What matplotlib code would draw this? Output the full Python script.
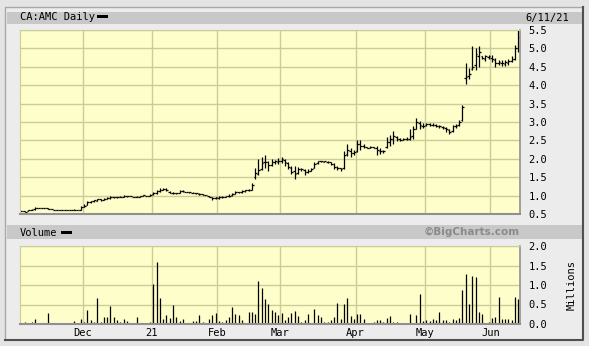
import numpy as np
import pandas as pd
import matplotlib
matplotlib.use("Agg")
import matplotlib.pyplot as plt
from matplotlib.patches import Rectangle
from matplotlib.lines import Line2D

# --------------------------------------------------
# Data (daily OHLC + volume)
# --------------------------------------------------
holidays = ["2020-12-25", "2020-12-28", "2021-01-01", "2021-02-15",
            "2021-04-02", "2021-05-24"]
dates = pd.bdate_range("2020-11-04", "2021-06-11")
dates = dates[~dates.isin(pd.to_datetime(holidays))]

open_ = [0.58, 0.58, 0.57, 0.60, 0.63, 0.66, 0.66, 0.66, 0.66, 0.64,
         0.62, 0.62, 0.62, 0.62, 0.62, 0.62, 0.62, 0.62, 0.62, 0.70,
         0.75, 0.82, 0.84, 0.86, 0.90, 0.88, 0.92, 0.93, 0.95, 0.95,
         0.96, 0.97, 0.99, 0.98, 0.97, 0.96, 0.97, 0.99, 1.00, 1.00,
         1.03, 1.07, 1.13, 1.16, 1.18, 1.10, 1.08, 1.06, 1.07, 1.12,
         1.11, 1.10, 1.08, 1.07, 1.05, 1.03, 1.01, 1.00, 0.95, 0.93,
         0.94, 0.95, 0.97, 0.99, 1.01, 1.05, 1.09, 1.10, 1.12, 1.14,
         1.16, 1.50, 1.60, 1.72, 1.90, 1.90, 1.82, 1.90, 1.92, 1.95,
         1.98, 1.88, 1.76, 1.66, 1.62, 1.73, 1.70, 1.65, 1.68, 1.75,
         1.88, 1.93, 1.92, 1.92, 1.90, 1.85, 1.77, 1.74, 1.75, 2.12,
         2.22, 2.15, 2.20, 2.40, 2.35, 2.31, 2.30, 2.31, 2.28, 2.22,
         2.20, 2.32, 2.45, 2.55, 2.60, 2.54, 2.52, 2.53, 2.55, 2.62,
         2.82, 2.98, 2.90, 2.92, 2.94, 2.93, 2.92, 2.90, 2.87, 2.84,
         2.78, 2.75, 2.90, 2.92, 3.05, 4.20, 4.25, 4.45, 4.55, 4.80,
         4.78, 4.72, 4.76, 4.75, 4.68, 4.60, 4.60, 4.58, 4.60, 4.65,
         4.72, 5.00]
high = [0.59, 0.58, 0.61, 0.63, 0.68, 0.66, 0.66, 0.66, 0.66, 0.64,
        0.62, 0.62, 0.62, 0.62, 0.62, 0.62, 0.63, 0.62, 0.72, 0.78,
        0.86, 0.86, 0.88, 0.92, 0.92, 0.94, 0.96, 0.98, 0.97, 0.97,
        0.98, 1.01, 0.99, 0.98, 0.97, 0.99, 0.98, 1.02, 1.00, 1.03,
        1.10, 1.16, 1.20, 1.22, 1.22, 1.12, 1.10, 1.08, 1.14, 1.14,
        1.11, 1.11, 1.09, 1.08, 1.06, 1.04, 1.01, 1.00, 0.96, 0.96,
        0.98, 0.99, 1.00, 1.03, 1.07, 1.12, 1.11, 1.14, 1.16, 1.17,
        1.35, 1.75, 2.00, 2.05, 2.10, 1.95, 2.00, 1.98, 2.02, 2.05,
        2.00, 1.90, 1.80, 1.80, 1.78, 1.76, 1.72, 1.72, 1.75, 1.90,
        1.95, 1.95, 1.94, 1.94, 1.92, 1.88, 1.80, 1.76, 2.20, 2.40,
        2.30, 2.25, 2.50, 2.50, 2.40, 2.33, 2.34, 2.32, 2.35, 2.28,
        2.25, 2.60, 2.65, 2.75, 2.62, 2.56, 2.56, 2.60, 2.80, 2.90,
        3.10, 3.02, 2.98, 2.98, 2.96, 2.96, 2.95, 2.92, 2.90, 2.86,
        2.80, 2.92, 2.95, 3.05, 3.45, 4.60, 4.46, 5.06, 5.00, 5.06,
        4.80, 4.82, 4.82, 4.82, 4.73, 4.68, 4.68, 4.68, 4.72, 4.78,
        5.09, 5.49]
low = [0.57, 0.55, 0.57, 0.60, 0.62, 0.65, 0.66, 0.66, 0.63, 0.63,
       0.62, 0.62, 0.62, 0.62, 0.62, 0.62, 0.62, 0.62, 0.62, 0.68,
       0.74, 0.80, 0.83, 0.85, 0.86, 0.87, 0.91, 0.90, 0.93, 0.94,
       0.95, 0.96, 0.97, 0.98, 0.95, 0.95, 0.97, 0.98, 1.00, 0.99,
       1.01, 1.05, 1.10, 1.14, 1.12, 1.06, 1.04, 1.05, 1.06, 1.09,
       1.11, 1.08, 1.06, 1.05, 1.02, 1.01, 1.01, 0.95, 0.88, 0.90,
       0.92, 0.94, 0.96, 0.97, 1.00, 1.04, 1.06, 1.08, 1.11, 1.12,
       1.15, 1.45, 1.55, 1.70, 1.75, 1.68, 1.80, 1.85, 1.85, 1.88,
       1.80, 1.72, 1.60, 1.45, 1.60, 1.66, 1.55, 1.62, 1.66, 1.74,
       1.86, 1.90, 1.91, 1.88, 1.83, 1.72, 1.70, 1.68, 1.72, 2.08,
       2.05, 2.10, 2.18, 2.25, 2.28, 2.28, 2.29, 2.28, 2.10, 2.12,
       2.15, 2.30, 2.35, 2.40, 2.48, 2.48, 2.50, 2.50, 2.50, 2.55,
       2.80, 2.82, 2.85, 2.90, 2.90, 2.90, 2.86, 2.84, 2.80, 2.72,
       2.68, 2.74, 2.85, 2.88, 3.04, 4.04, 4.18, 4.40, 4.42, 4.50,
       4.70, 4.66, 4.70, 4.62, 4.50, 4.55, 4.52, 4.52, 4.55, 4.64,
       4.69, 4.90]
close = [0.58, 0.56, 0.60, 0.62, 0.66, 0.66, 0.66, 0.66, 0.64, 0.63,
         0.62, 0.62, 0.62, 0.62, 0.62, 0.62, 0.62, 0.62, 0.70, 0.72,
         0.82, 0.84, 0.87, 0.90, 0.88, 0.92, 0.94, 0.95, 0.95, 0.96,
         0.97, 1.00, 0.98, 0.98, 0.95, 0.97, 0.98, 1.01, 1.00, 1.02,
         1.06, 1.12, 1.16, 1.19, 1.14, 1.08, 1.06, 1.06, 1.12, 1.12,
         1.11, 1.09, 1.07, 1.06, 1.03, 1.02, 1.01, 0.96, 0.93, 0.95,
         0.95, 0.97, 0.98, 1.00, 1.05, 1.09, 1.09, 1.12, 1.14, 1.15,
         1.30, 1.62, 1.70, 1.88, 1.92, 1.82, 1.90, 1.93, 1.95, 2.00,
         1.90, 1.77, 1.65, 1.60, 1.73, 1.71, 1.65, 1.68, 1.73, 1.86,
         1.93, 1.93, 1.93, 1.91, 1.86, 1.77, 1.75, 1.73, 2.10, 2.23,
         2.15, 2.18, 2.40, 2.36, 2.32, 2.30, 2.32, 2.30, 2.23, 2.20,
         2.22, 2.45, 2.55, 2.62, 2.55, 2.52, 2.53, 2.55, 2.60, 2.80,
         3.00, 2.92, 2.90, 2.95, 2.93, 2.93, 2.90, 2.88, 2.86, 2.80,
         2.72, 2.90, 2.90, 3.00, 3.42, 4.22, 4.30, 4.50, 4.85, 4.90,
         4.75, 4.78, 4.80, 4.70, 4.60, 4.62, 4.60, 4.62, 4.66, 4.70,
         5.00, 5.30]
volume = [0.03, 0.06, 0.02, 0.06, 0.14, 0.03, 0, 0, 0.28, 0.02,
          0, 0.02, 0.02, 0, 0.02, 0.02, 0.07, 0, 0.14, 0.05,
          0.35, 0.09, 0.05, 0.67, 0.05, 0.17, 0.19, 0.46, 0.17, 0.09,
          0.05, 0.12, 0.07, 0, 0, 0.19, 0, 0.02, 0, 0.05,
          1.03, 1.58, 0.67, 0.14, 0.23, 0.16, 0.49, 0.17, 0.07, 0.12,
          0, 0.02, 0.07, 0.07, 0.23, 0.05, 0, 0.14, 0.23, 0.28,
          0.07, 0.05, 0.09, 0.19, 0.43, 0.26, 0.23, 0.10, 0, 0.31,
          0.31, 0.26, 1.09, 0.93, 0.64, 0.51, 0.37, 0.30, 0.23, 0.28,
          0.10, 0.17, 0.28, 0.34, 0.21, 0.04, 0.10, 0.26, 0.03, 0.38,
          0.23, 0.19, 0.06, 0.06, 0.09, 0.17, 0.54, 0.12, 0.52, 0.67,
          0.21, 0.12, 0.26, 0.26, 0.12, 0.03, 0.02, 0.05, 0.09, 0.09,
          0.05, 0.15, 0.21, 0.06, 0.05, 0.02, 0, 0.02, 0.26, 0.02,
          0.23, 0.76, 0.07, 0.09, 0.07, 0.12, 0.09, 0.31, 0.09, 0.10,
          0.05, 0.12, 0.09, 0.15, 0.86, 1.27, 0.51, 1.22, 1.20, 0.30,
          0.26, 0.03, 0.05, 0.15, 0.17, 0.68, 0.14, 0.12, 0.12, 0.09,
          0.68, 0.64]

price_ticks = [0.5, 1.0, 1.5, 2.0, 2.5, 3.0, 3.5, 4.0, 4.5, 5.0, 5.5]
volume_ticks = [0.0, 0.5, 1.0, 1.5, 2.0]
month_labels = ["Dec", "21", "Feb", "Mar", "Apr", "May", "Jun"]

# --------------------------------------------------
# Layout helpers (pixel -> figure fraction)
# --------------------------------------------------
W, H = 589, 346
def fx(px):
    return px / W
def fy(py):
    return 1 - py / H

MONO = "DejaVu Sans Mono"
FACE = "#fefecb"
GRID = "#cccc99"

fig = plt.figure(figsize=(W / 100, H / 100), dpi=100)
fig.patch.set_facecolor("#e4e4e4")

# outer panel and header bars (behind the axes)
fig.patches.append(Rectangle((fx(5), fy(340)), (583 - 5) / W, (340 - 7) / H,
                             transform=fig.transFigure, facecolor="#ececec",
                             edgecolor="none", zorder=-2))
for y0, y1 in [(12, 24), (225, 239)]:
    fig.patches.append(Rectangle((fx(7), fy(y1)), (582 - 7) / W, (y1 - y0) / H,
                                 transform=fig.transFigure, facecolor="#c8c8c8",
                                 edgecolor="none", zorder=-1))
fig.lines.append(Line2D([fx(5), fx(5), fx(583)], [fy(340), fy(7), fy(7)],
                        transform=fig.transFigure, color="#a8a8a8", lw=1.0))
fig.lines.append(Line2D([fx(5), fx(583), fx(583)], [fy(340), fy(340), fy(7)],
                        transform=fig.transFigure, color="#505050", lw=1.5))

idx = np.arange(len(dates))
month_pos = [np.argmax((dates.month == m) & (dates.year == y)) - 0.5
             for y, m in [(2020, 12), (2021, 1), (2021, 2), (2021, 3),
                          (2021, 4), (2021, 5), (2021, 6)]]

def style_axes(ax):
    ax.set_facecolor(FACE)
    ax.set_axisbelow(True)
    ax.grid(True, color=GRID, lw=1.0)
    ax.spines["top"].set_color(GRID)
    ax.spines["left"].set_color(GRID)
    ax.spines["right"].set_color("#909090")
    ax.spines["bottom"].set_color("#909090")
    ax.spines["right"].set_linewidth(1.2)
    ax.spines["bottom"].set_linewidth(1.5)
    ax.set_xlim(-0.5, len(dates) - 0.5)
    ax.set_xticks(month_pos)
    ax.yaxis.tick_right()
    ax.tick_params(axis="both", length=0, labelsize=7.5)

# --------------------------------------------------
# Price panel
# --------------------------------------------------
ax = fig.add_axes([fx(20), fy(214), 500 / W, (214 - 30) / H])
ax.vlines(idx, low, high, color="black", lw=0.9)
ax.hlines(open_, idx - 0.5, idx, color="black", lw=0.9)
ax.hlines(close, idx, idx + 0.5, color="black", lw=0.9)
ax.set_ylim(0.5, 5.5)
style_axes(ax)
ax.set_yticks(price_ticks, [f"{t:.1f}" for t in price_ticks], family=MONO)
ax.tick_params(axis="y", pad=6)
ax.set_xticklabels([])

# --------------------------------------------------
# Volume panel
# --------------------------------------------------
ax_v = fig.add_axes([fx(20), fy(324), 500 / W, (324 - 246) / H])
ax_v.vlines(idx, 0, volume, color="black", lw=0.9)
ax_v.set_ylim(0, 2.0)
style_axes(ax_v)
ax_v.set_yticks(volume_ticks, [f"{t:.1f}" for t in volume_ticks], family=MONO)
ax_v.set_xticks(month_pos, month_labels, family=MONO)
ax_v.tick_params(axis="y", pad=6)
ax_v.tick_params(axis="x", pad=3)

# --------------------------------------------------
# Header texts
# --------------------------------------------------
fig.text(fx(20), fy(17.5), "CA:AMC Daily", family=MONO, size=7.5, va="center")
fig.patches.append(Rectangle((fx(97), fy(18)), 11 / W, 3 / H,
                             transform=fig.transFigure, facecolor="black"))
fig.text(fx(569), fy(17.5), "6/11/21", family=MONO, size=7.5,
         va="center", ha="right")
fig.text(fx(20), fy(232.5), "Volume", family=MONO, size=7.5, va="center")
fig.patches.append(Rectangle((fx(61), fy(234)), 11 / W, 3 / H,
                             transform=fig.transFigure, facecolor="black"))
fig.text(fx(520), fy(232), "\u00a9BigCharts.com", family="DejaVu Sans",
         weight="bold", size=7.5, color="#8a8a8a", va="center", ha="right")
fig.text(fx(572), fy(285), "Millions", family=MONO, size=7.5,
         rotation=90, va="center", ha="center")

fig.savefig("out.png", dpi=100, facecolor=fig.get_facecolor())
